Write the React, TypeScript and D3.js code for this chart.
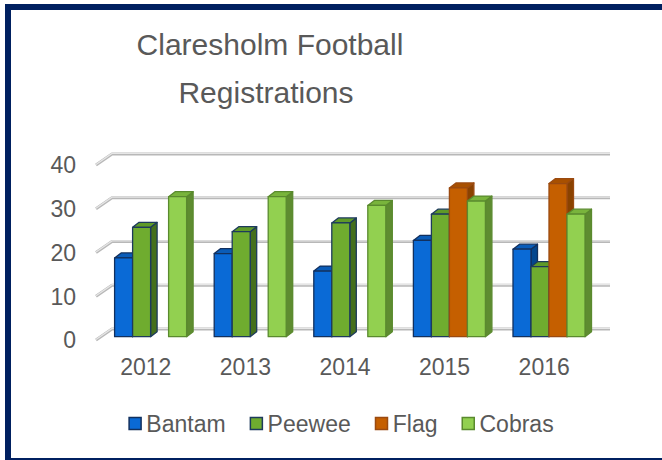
import React, { useEffect, useRef } from 'react';
import * as d3 from 'd3';

const years = ['2012', '2013', '2014', '2015', '2016'];
const seriesNames = ['Bantam', 'Peewee', 'Flag', 'Cobras'];
const bantam = [18, 19, 15, 22, 20];
const peewee = [25, 24, 26, 28, 16];
const flag = [0, 0, 0, 34, 35];
const cobras = [32, 32, 30, 31, 28];
const yTicks = [0, 10, 20, 30, 40];

const seriesValues = [bantam, peewee, flag, cobras];
// front, side, top, outline
const seriesColors = [
  { front: '#0a6ad6', side: '#03468e', top: '#0a5cb8', line: '#12305e' },
  { front: '#6fac2f', side: '#446f1c', top: '#5f9a28', line: '#1d3a5c' },
  { front: '#c55f00', side: '#8a4200', top: '#a85000', line: '#9a4a10' },
  { front: '#92d050', side: '#5e8c30', top: '#79b43c', line: '#5a8a2e' },
];

const App = () => {
  const svgRef = useRef<SVGSVGElement>(null);

  useEffect(() => {
    const svg = d3.select(svgRef.current);
    svg.selectAll('*').remove();
    const font = '"Liberation Sans", Arial, sans-serif';
    const textColor = '#595959';

    // frame
    svg.append('rect')
      .attr('x', 8).attr('y', 7).attr('width', 660).attr('height', 454)
      .attr('fill', '#fff').attr('stroke', '#002060').attr('stroke-width', 6);

    // title
    const title = svg.append('text')
      .attr('text-anchor', 'middle')
      .attr('font-family', font).attr('font-size', 30).attr('fill', textColor);
    title.append('tspan').attr('x', 270).attr('y', 55).text('Claresholm Football');
    title.append('tspan').attr('x', 266).attr('y', 103).text('Registrations');

    // front plane scales, depth vector
    const x = d3.scaleBand<string>().domain(years).range([96, 594]).paddingInner(0.277).paddingOuter(0.1385);
    const y = d3.scaleLinear().domain([0, 40]).range([340, 165]);
    const depth = { dx: 16, dy: -11 };
    const off = { dx: 4.8, dy: -3.3 };
    const bar = { dx: 6.5, dy: -5 };

    // gridlines
    const grid = svg.append('g');
    yTicks.forEach(v => {
      const x0 = 96, y0 = y(v);
      const d = `M${x0},${y0}L${x0 + depth.dx},${y0 + depth.dy}L${594 + depth.dx},${y0 + depth.dy}`;
      grid.append('path').attr('d', d).attr('fill', 'none')
        .attr('stroke', '#b8b8b8').attr('stroke-width', 3).attr('stroke-linejoin', 'round');
      grid.append('path').attr('d', d).attr('fill', 'none')
        .attr('stroke', '#e6e6e6').attr('stroke-width', 1.2).attr('transform', 'translate(0,-0.6)');
    });

    // y labels
    svg.append('g').selectAll('text').data(yTicks).join('text')
      .attr('x', 76).attr('y', d => y(d)).attr('dy', '0.36em')
      .attr('text-anchor', 'end').attr('font-family', font).attr('font-size', 23)
      .attr('fill', textColor).text(d => d);

    // x labels
    svg.append('g').selectAll('text').data(years).join('text')
      .attr('x', d => (x(d) as number) + x.bandwidth() / 2).attr('y', 375)
      .attr('text-anchor', 'middle').attr('font-family', font).attr('font-size', 23)
      .attr('fill', textColor).text(d => d);

    // bars
    const inner = d3.scaleBand<number>().domain(d3.range(seriesNames.length)).range([0, x.bandwidth()]);
    const bars = svg.append('g');
    years.forEach((yr, i) => {
      seriesValues.forEach((vals, s) => {
        const v = vals[i];
        if (!v) return;
        const c = seriesColors[s];
        const x0 = (x(yr) as number) + (inner(s) as number) + off.dx;
        const x1 = x0 + inner.bandwidth();
        const yb = y(0) + off.dy;
        const yt = y(v) + off.dy;
        const g = bars.append('g').attr('stroke', c.line).attr('stroke-width', 1.3).attr('stroke-linejoin', 'round');
        g.append('path')
          .attr('d', `M${x1},${yb}L${x1 + bar.dx},${yb + bar.dy}L${x1 + bar.dx},${yt + bar.dy}L${x1},${yt}Z`)
          .attr('fill', c.side);
        g.append('path')
          .attr('d', `M${x0},${yt}L${x0 + bar.dx},${yt + bar.dy}L${x1 + bar.dx},${yt + bar.dy}L${x1},${yt}Z`)
          .attr('fill', c.top);
        g.append('rect')
          .attr('x', x0).attr('y', yt).attr('width', x1 - x0).attr('height', yb - yt)
          .attr('fill', c.front);
      });
    });

    // legend
    const legend = svg.append('g');
    let cursor = 0;
    const items: { g: any; w: number }[] = [];
    seriesNames.forEach((name, s) => {
      const g = legend.append('g');
      g.append('rect').attr('x', 0.75).attr('y', -6.5).attr('width', 12).attr('height', 12)
        .attr('fill', seriesColors[s].front).attr('stroke', seriesColors[s].line).attr('stroke-width', 1.5);
      const t = g.append('text').attr('x', 18).attr('y', 0).attr('dy', '0.36em')
        .attr('font-family', font).attr('font-size', 23).attr('fill', textColor).text(name);
      const w = 18 + (t.node() as SVGTextElement).getComputedTextLength();
      items.push({ g, w });
    });
    const gap = 24;
    const total = d3.sum(items, d => d.w) + gap * (items.length - 1);
    cursor = 341 - total / 2;
    items.forEach(it => {
      it.g.attr('transform', `translate(${cursor},424)`);
      cursor += it.w + gap;
    });
  }, []);

  return (
    <div>
      <svg ref={svgRef} width={662} height={460} style={{ position: 'absolute', left: 0, top: 0 }}></svg>
    </div>
  );
};

export default App;
